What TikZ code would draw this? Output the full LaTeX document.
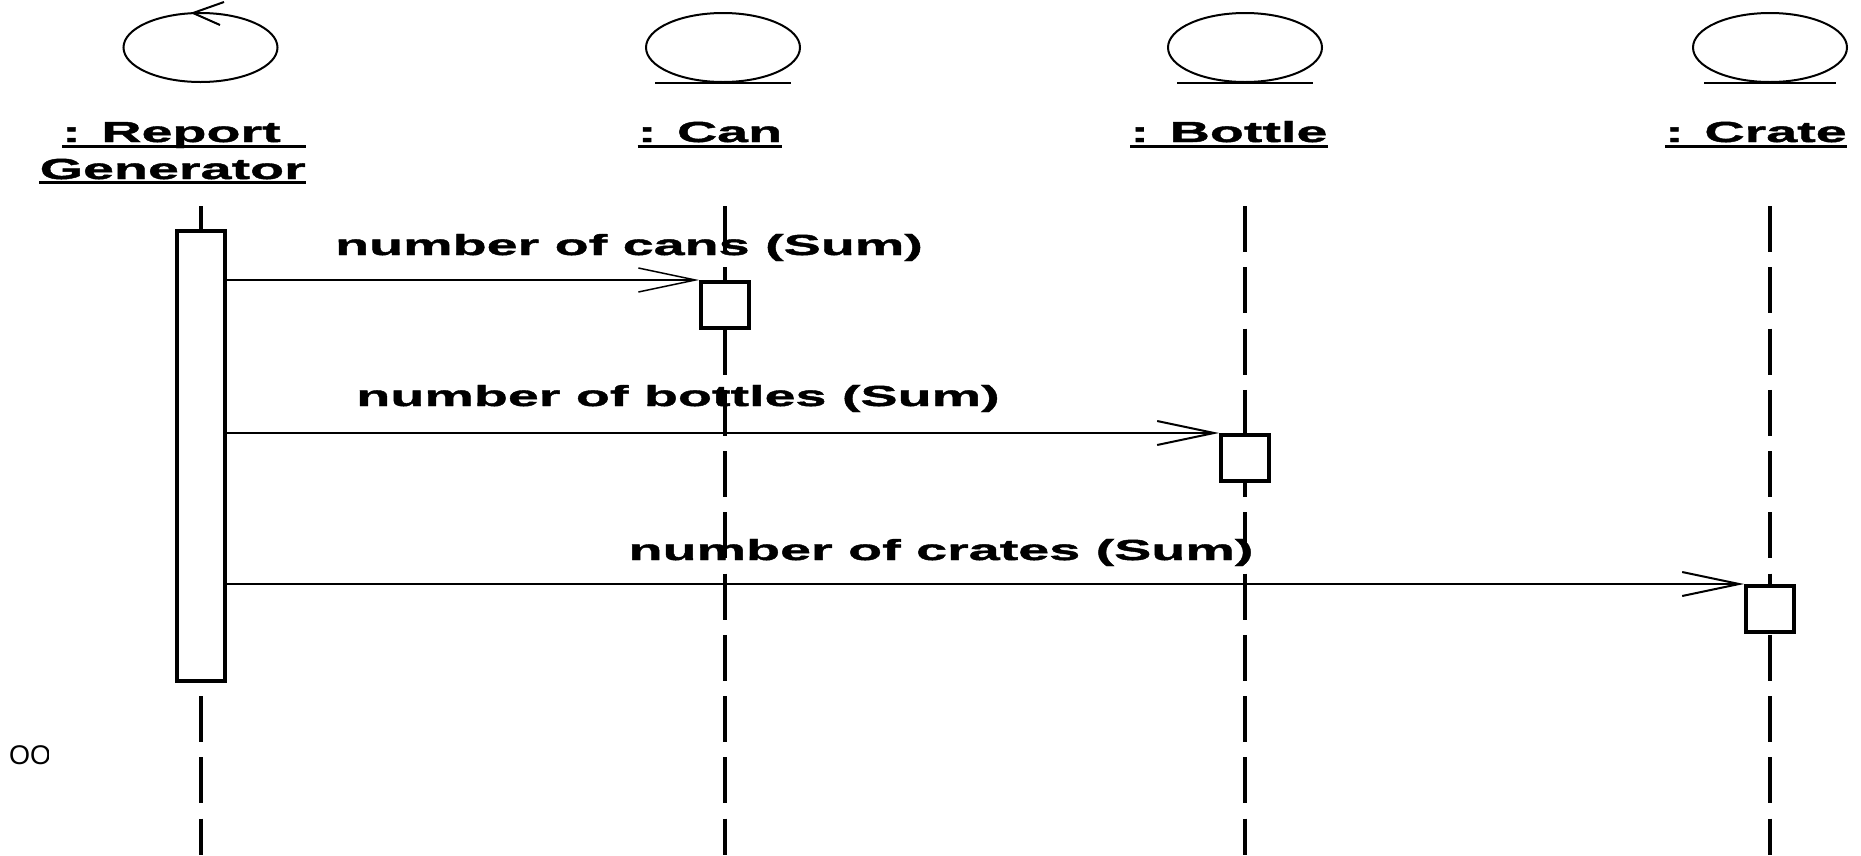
\documentclass[tikz,border=0pt]{standalone}
\usepackage{fontspec}
\newfontfamily\umlfont{Liberation Sans}[FakeStretch=1.92, FakeBold=1.5]
\newfontfamily\notefont{Liberation Sans}
\usetikzlibrary{arrows.meta, positioning, shapes.geometric}

\begin{document}
\begin{tikzpicture}[
			x=1pt, y=-1pt,
			every node/.style={font=\umlfont\bfseries\fontsize{29}{34}\selectfont, inner sep=0pt},
			icon/.style={
				ellipse, draw, line width=2pt,
				minimum width=154pt, minimum height=69pt
			},
			objname/.style={anchor=base},
			uline/.style={line width=3pt},
			lifeline/.style={line width=4pt, dash pattern=on 46pt off 15.25pt},
			activation/.style={
				rectangle, draw, fill=white, line width=4pt,
				minimum width=48pt, minimum height=46pt
			},
			msg/.style={
				-{Straight Barb[length=57pt,width=24pt]},
				line width=2pt
			}
			]
			\useasboundingbox (0,0) rectangle (1861,855);
			
			% object symbols
			\node[icon] (rgicon) at (200.5,47.5) {};
			\node[icon] (canicon) at (723,47.5) {};
			\node[icon] (bottleicon) at (1245,47.5) {};
			\node[icon] (crateicon) at (1770,47.5) {};
			\draw[line width=2pt] (224,2) -- (193,13) -- (220,25);
			\draw[line width=2pt] ([xshift=-68pt]canicon.south) -- ([xshift=68pt]canicon.south);
			\draw[line width=2pt] ([xshift=-68pt]bottleicon.south) -- ([xshift=68pt]bottleicon.south);
			\draw[line width=2pt] ([xshift=-66pt]crateicon.south) -- ([xshift=66pt]crateicon.south);
			
			% object names
			\node[objname, anchor=base west] (rgname) at (62,142) {: Report};
			\node[objname, anchor=base east] (rgname2) at (306,179) {Generator};
			\node[objname] (canname) at (710,142) {: Can};
			\node[objname] (bottlename) at (1229,142) {: Bottle};
			\node[objname] (cratename) at (1756,142) {: Crate};
			\draw[uline] ([yshift=-4pt]rgname.base west) -- ([yshift=-4pt]rgname.base west -| rgname2.east);
			\draw[uline] ([yshift=-3.5pt]rgname2.base west) -- ([yshift=-3.5pt]rgname2.base east);
			\draw[uline] ([yshift=-4pt]canname.base west) -- ([yshift=-4pt]canname.base east);
			\draw[uline] ([yshift=-4pt]bottlename.base west) -- ([yshift=-4pt]bottlename.base east);
			\draw[uline] ([yshift=-4pt]cratename.base west) -- ([yshift=-4pt]cratename.base east);
			
			% lifelines
			\coordinate (rgtop) at (200.5,206);
			\coordinate (rgend) at (200.5,855);
			\coordinate (cantop) at (725,206);
			\coordinate (canend) at (725,855);
			\coordinate (bottletop) at (1245,206);
			\coordinate (bottleend) at (1245,855);
			\coordinate (cratetop) at (1770,206);
			\coordinate (crateend) at (1770,855);
			\draw[lifeline] (rgtop) -- (rgend);
			\draw[lifeline] (cantop) -- (canend);
			\draw[lifeline] (bottletop) -- (bottleend);
			\draw[lifeline] (cratetop) -- (crateend);
			
			% activations
			\node[activation, minimum height=450pt] (rgbox) at (200.5,456) {};
			\node[activation] (canbox) at (725,305) {};
			\node[activation] (bottlebox) at (1245,458) {};
			\node[activation] (cratebox) at (1770,609) {};
			
			% messages
			\draw[msg, line width=1.5pt] (rgbox.east |- canbox.north west) -- (canbox.north west);
			\draw[msg] (rgbox.east |- bottlebox.north west) -- (bottlebox.north west);
			\draw[msg] (rgbox.east |- cratebox.north west) -- (cratebox.north west);
			\node[anchor=base] (canlabel) at (629,255) {number of cans (Sum)};
			\node[anchor=base] (bottlelabel) at (678,406) {number of bottles (Sum)};
			\node[anchor=base] (cratelabel) at (941,560) {number of crates (Sum)};
			
			% cut-off note
			\begin{scope}
				\clip (0,700) rectangle (48,800);
				\node[font=\notefont\fontsize{27}{32}\selectfont, anchor=base west] (note) at (9,764) {OO};
			\end{scope}
		\end{tikzpicture}
\end{document}
